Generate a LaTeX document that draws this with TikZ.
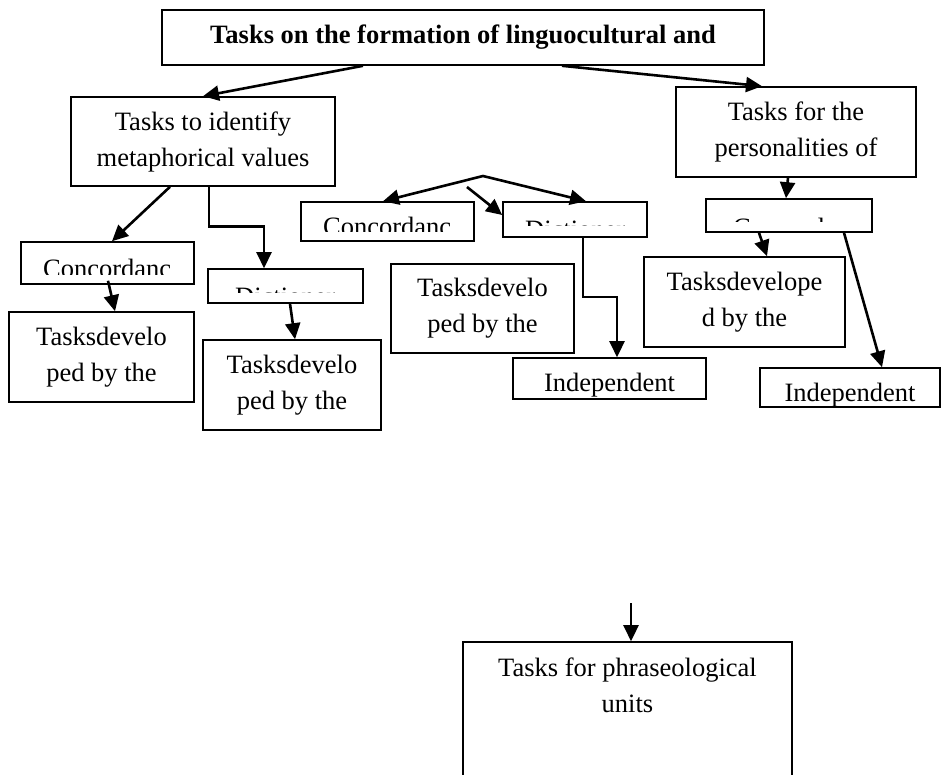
\documentclass[tikz,border=0pt]{standalone}
\usepackage{fontspec}
\setmainfont{Liberation Serif}
\usetikzlibrary{arrows.meta}
\begin{document}
\begin{tikzpicture}[x=1pt,y=-1pt,
  txt/.style={font=\fontsize{26.5}{36}\selectfont},
  box/.style={draw,line width=1.6pt,inner sep=0pt,align=center,txt},
  tip/.style={Triangle[length=16pt,width=15pt]},
  arr/.style={line width=2.6pt,-{Triangle[length=16pt,width=15pt]}},
  lbl/.style={inner sep=0pt,anchor=base west,txt}]
\useasboundingbox (0,0) rectangle (942,775);
\clip (0,0) rectangle (942,775);

% boxes
\node[box,font=\fontsize{26.5}{36}\selectfont\bfseries,minimum width=602pt,minimum height=55pt] (title) at (463,37.5) {Tasks on the formation of linguocultural and};
\node[box,minimum width=264pt,minimum height=89pt] (b2) at (203,141.5) {Tasks to identify\\metaphorical values};
\node[box,minimum width=240pt,minimum height=90pt] (bP) at (796,132) {Tasks for the\\personalities of};
\node[box,minimum width=173pt,minimum height=42pt] (cL) at (107.5,263) {};
\node[box,minimum width=155pt,minimum height=34pt] (dL) at (285.5,286) {};
\node[box,minimum width=185pt,minimum height=90pt] (tL) at (101.5,357) {Tasksdevelo\\ped by the};
\node[box,minimum width=178pt,minimum height=90pt] (t2) at (292,385) {Tasksdevelo\\ped by the};
\node[box,minimum width=173pt,minimum height=39pt] (cM) at (387.5,221.5) {};
\node[box,minimum width=144pt,minimum height=35pt] (dM) at (575,219.5) {};
\node[box,minimum width=183pt,minimum height=89pt] (tM) at (482.5,308.5) {Tasksdevelo\\ped by the};
\node[box,minimum width=193pt,minimum height=41pt,text height=25pt,text depth=0pt] (iM) at (609.5,378.5) {Independent};
\node[box,minimum width=166pt,minimum height=33pt] (cR) at (789,215.5) {};
\node[box,minimum width=201pt,minimum height=90pt] (tR) at (744.5,302) {Tasksdevelope\\d by the};
\node[box,minimum width=180pt,minimum height=39pt,text height=27pt,text depth=0pt] (iR) at (850,387.5) {Independent};
\node[box,minimum width=329pt,minimum height=158pt] (bot) at (627.5,721) {};
\node[inner sep=0pt,align=center,txt,anchor=north] (botT) at (627.5,658) {Tasks for phraseological\\units};

% clipped texts
\begin{scope}\clip (21,242) rectangle (194,275);
\node[lbl] (cLt) at (43,277.5) {Concordanc};\end{scope}
\begin{scope}\clip (301,202) rectangle (474,232);
\node[lbl] (cMt) at (323,235.5) {Concordanc};\end{scope}
\begin{scope}\clip (706,199) rectangle (872,222);
\node[lbl] (cRt) at (733,237) {Concordanc};\end{scope}
\begin{scope}\clip (208,269) rectangle (363,293);
\node[lbl] (dLt) at (235,305.5) {Dictioner};\end{scope}
\begin{scope}\clip (503,202) rectangle (647,226);
\node[lbl] (dMt) at (525,238.5) {Dictioner};\end{scope}

% connectors
\draw[arr] (363,0 |- title.south) -- (b2.north);
\draw[arr] (562,0 |- title.south) -- (762,0 |- bP.north);
\draw[arr] (170,0 |- b2.south) -- (112,0 |- cL.north);
\draw[arr] (209,0 |- b2.south) -- ++(0,40) -| (264,0 |- dL.north);
\draw[arr] ([xshift=0.5pt,yshift=4pt]cL.south) -- (115,0 |- tL.north);
\draw[arr] ([xshift=4.5pt]dL.south) -- (295,0 |- t2.north);
\coordinate (fork) at (483,176);
\draw[line width=2.6pt,{Triangle[length=16pt,width=15pt]}-{Triangle[length=16pt,width=15pt]}] (383,0 |- cM.north) -- (fork) -- (586,0 |- dM.north);
\coordinate (s3) at (467,187);
\draw[arr] (s3) -- (dM.west |- 0,215);
\draw[arr] (583,0 |- dM.south) -- (583,297) -| (617,0 |- iM.north);
\draw[arr] (788,0 |- bP.south) -- (786,0 |- cR.north);
\draw[arr] (759,0 |- cR.south) -- (767,0 |- tR.north);
\draw[arr] (844,0 |- cR.south) -- (882,0 |- iR.north);
\coordinate (s4) at (631,603);
\draw[arr] (s4) -- (631,0 |- bot.north);
\end{tikzpicture}
\end{document}
